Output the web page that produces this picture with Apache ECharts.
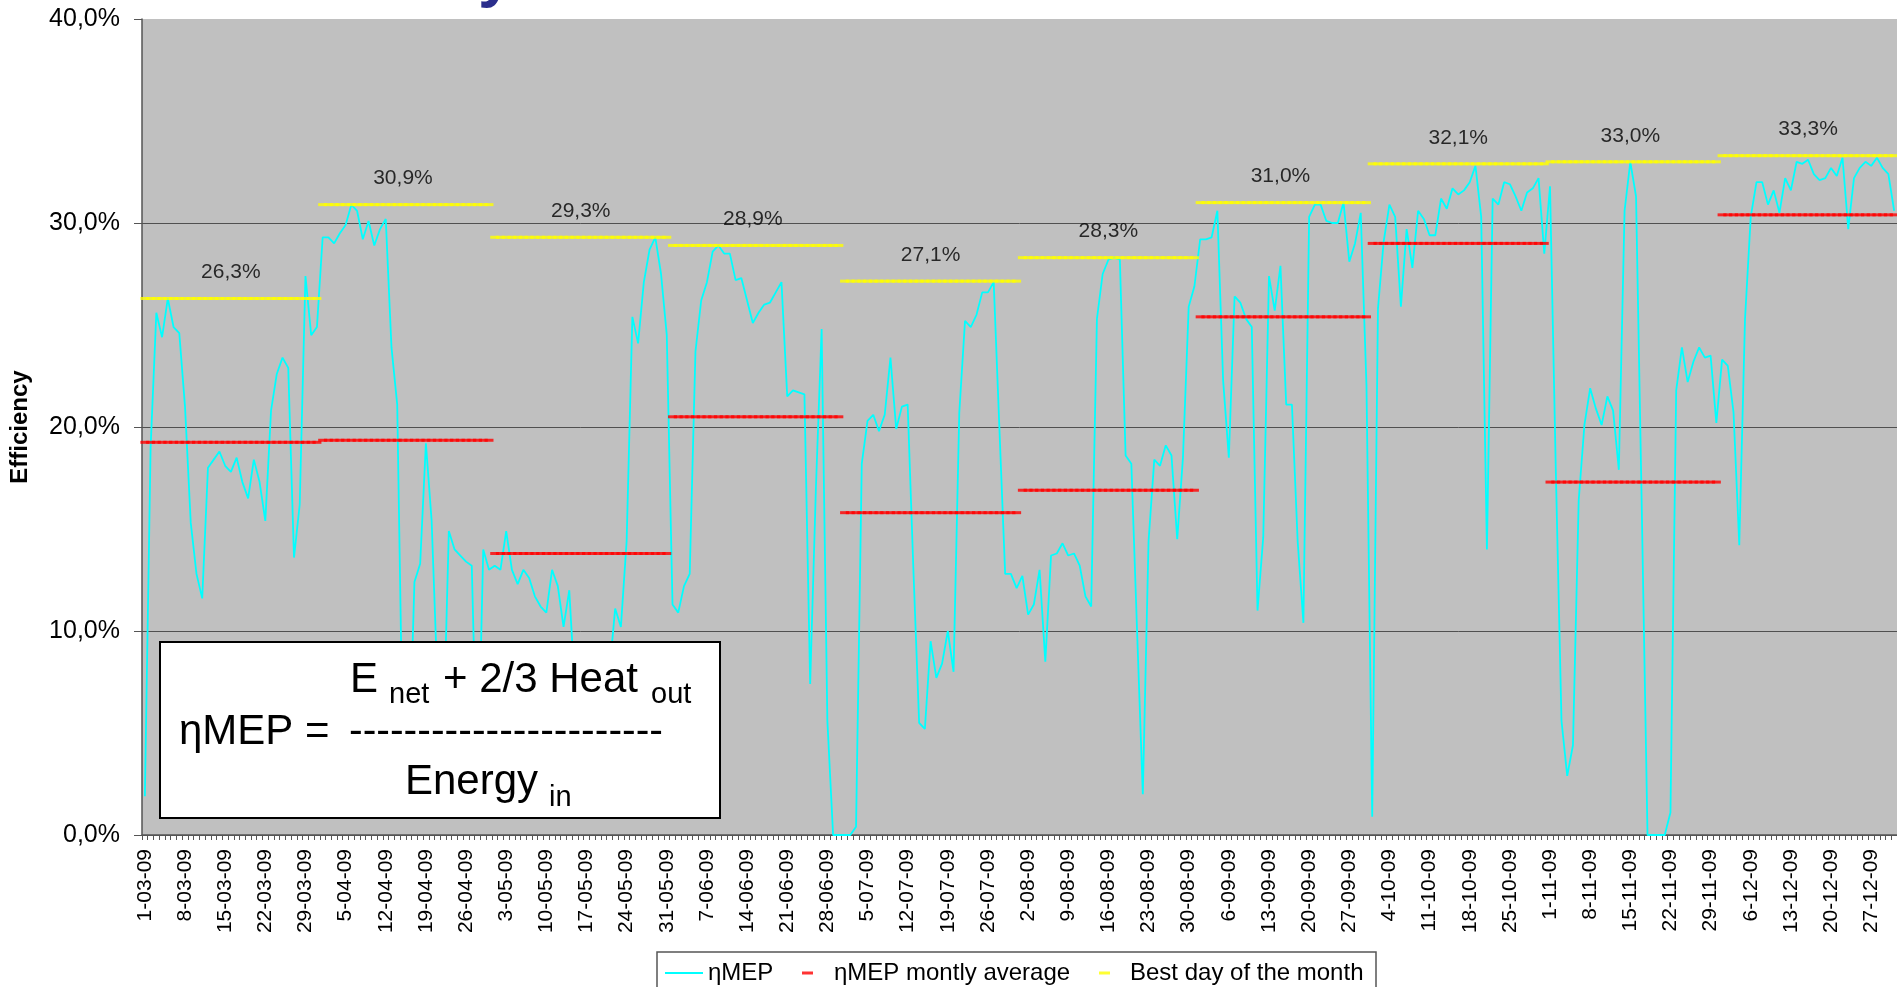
<!DOCTYPE html>
<html>
<head>
<meta charset="utf-8">
<title>Efficiency</title>
<script src="https://cdn.jsdelivr.net/npm/echarts@6/dist/echarts.min.js"></script>
<style>
  html, body { margin: 0; padding: 0; background: #fff; }
  #myCharts { width: 1897px; height: 987px; }
</style>
</head>
<body>
<div id="myCharts"></div>
<script>
// daily efficiency (%) per month, 2009
const mar = [1.9, 19.0, 25.6, 24.4, 26.3, 24.9, 24.6, 21.0, 15.3, 12.8, 11.6, 18.0, 18.4, 18.8, 18.1, 17.8, 18.5, 17.3, 16.5, 18.4, 17.3, 15.4, 20.8, 22.6, 23.4, 22.9, 13.6, 16.2, 27.4, 24.5, 24.9];
const apr = [29.3, 29.3, 29.0, 29.5, 29.9, 30.9, 30.6, 29.2, 30.1, 28.9, 29.7, 30.2, 23.9, 21.1, 3.8, 2.7, 12.4, 13.3, 19.2, 15.4, 7.6, 4.3, 14.9, 14.0, 13.7, 13.4, 13.2, 2.0, 14.0, 13.0];
const may = [13.2, 13.0, 14.9, 13.0, 12.3, 13.0, 12.6, 11.7, 11.2, 10.9, 13.0, 12.2, 10.2, 12.0, 7.0, 4.0, 3.0, 2.0, 3.0, 5.0, 8.0, 11.1, 10.2, 14.4, 25.4, 24.1, 27.1, 28.7, 29.3, 27.5, 24.5];
const jun = [11.3, 10.9, 12.2, 12.8, 23.7, 26.2, 27.1, 28.6, 28.9, 28.5, 28.5, 27.2, 27.3, 26.2, 25.1, 25.6, 26.0, 26.1, 26.6, 27.1, 21.5, 21.8, 21.7, 21.6, 7.4, 17.0, 24.8, 5.6, 0, 0];
const jul = [0, 0, 0.4, 18.2, 20.3, 20.6, 19.8, 20.6, 23.4, 19.9, 21.0, 21.1, 13.0, 5.5, 5.2, 9.5, 7.7, 8.4, 10.0, 8.0, 20.7, 25.2, 24.9, 25.5, 26.6, 26.6, 27.1, 19.9, 12.8, 12.8, 12.1];
const aug = [12.7, 10.8, 11.3, 13.0, 8.5, 13.7, 13.8, 14.3, 13.7, 13.8, 13.2, 11.7, 11.2, 25.3, 27.5, 28.2, 28.3, 28.2, 18.6, 18.2, 10.0, 2.0, 14.4, 18.4, 18.1, 19.1, 18.6, 14.5, 18.5, 25.9, 26.9];
const sep = [29.2, 29.2, 29.3, 30.6, 22.3, 18.5, 26.4, 26.1, 25.3, 24.9, 11.0, 14.6, 27.4, 25.7, 27.9, 21.1, 21.1, 14.4, 10.4, 30.3, 30.9, 30.9, 30.1, 30.0, 30.0, 31.0, 28.1, 29.0, 30.5, 22.0];
const oct = [0.9, 25.8, 29.1, 30.9, 30.3, 25.9, 29.7, 27.8, 30.6, 30.2, 29.4, 29.4, 31.2, 30.7, 31.7, 31.4, 31.6, 32.0, 32.8, 30.3, 14.0, 31.2, 30.9, 32.0, 31.9, 31.3, 30.6, 31.5, 31.7, 32.2, 28.5];
const nov = [31.8, 18.0, 5.6, 2.9, 4.4, 16.4, 20.1, 21.9, 20.9, 20.1, 21.5, 20.8, 17.9, 30.6, 33.0, 31.3, 16.0, 0, 0, 0, 0, 1.1, 21.8, 23.9, 22.2, 23.2, 23.9, 23.4, 23.5, 20.2];
const dec = [23.3, 23.0, 20.7, 14.2, 25.3, 30.3, 32.0, 32.0, 30.9, 31.6, 30.5, 32.2, 31.6, 33.0, 32.9, 33.1, 32.4, 32.1, 32.2, 32.7, 32.3, 33.2, 29.7, 32.2, 32.7, 33.0, 32.8, 33.2, 32.7, 32.4, 30.6];

const months = [mar, apr, may, jun, jul, aug, sep, oct, nov, dec];
const monthNumbers = ['03', '04', '05', '06', '07', '08', '09', '10', '11', '12'];

// monthly average and best day (line level and printed label)
const monthlyAverage = [19.25, 19.35, 13.8, 20.5, 15.8, 16.9, 25.4, 29.0, 17.3, 30.4];
const bestDay = [26.3, 30.9, 29.3, 28.9, 27.15, 28.3, 31.0, 32.9, 33.0, 33.3];
const bestLabels = ['26,3%', '30,9%', '29,3%', '28,9%', '27,1%', '28,3%', '31,0%', '32,1%', '33,0%', '33,3%'];

const yTicks = [0, 10, 20, 30, 40];

// build the per-day tables
const dates = [];
const efficiency = [];
const avgLine = [];
const bestLine = [];
months.forEach((days, m) => {
    const mid = Math.floor((days.length - 1) / 2);
    days.forEach((v, d) => {
        dates.push((d + 1) + '-' + monthNumbers[m] + '-09');
        efficiency.push(v);
        avgLine.push(monthlyAverage[m]);
        if (d === mid) {
            bestLine.push({ value: bestDay[m], label: { show: true, formatter: bestLabels[m] } });
        } else {
            bestLine.push(bestDay[m]);
        }
    });
});

const FONT = 'Liberation Sans';
const pct = v => v.toFixed(1).replace('.', ',') + '%';

const chart = echarts.init(document.getElementById('myCharts'));

const legendBase = {
    top: 961,
    padding: 0,
    icon: 'rect',
    selectedMode: false,
    textStyle: { fontFamily: FONT, fontSize: 24, color: '#000' }
};

// formula pieces: [text, x, y, size]
const formula = [
    ['E', 350, 680, 42],
    ['net', 389, 695, 29],
    ['+ 2/3 Heat', 443, 680, 42],
    ['out', 651, 695, 29],
    ['ηMEP =', 179, 732, 42],
    ['-----------------------', 349, 732, 41],
    ['Energy', 405, 782, 42],
    ['in', 549, 798, 29]
];

const options = {
    animation: false,
    textStyle: { fontFamily: FONT },
    grid: {
        left: 140, top: 19, right: -4, bottom: 152,
        show: true, backgroundColor: '#C0C0C0', borderWidth: 0
    },
    legend: [
        Object.assign({}, legendBase, { left: 665, data: ['ηMEP'], itemWidth: 38, itemHeight: 2 }),
        Object.assign({}, legendBase, { left: 802, data: ['ηMEP montly average'], itemWidth: 11, itemHeight: 3,
            textStyle: Object.assign({}, legendBase.textStyle, { padding: [0, 0, 0, 16] }) }),
        Object.assign({}, legendBase, { left: 1099, data: ['Best day of the month'], itemWidth: 11, itemHeight: 3,
            textStyle: Object.assign({}, legendBase.textStyle, { padding: [0, 0, 0, 15] }) })
    ],
    xAxis: {
        type: 'category',
        data: dates,
        boundaryGap: true,
        axisLine: { lineStyle: { color: '#555', width: 1.5 } },
        axisTick: { show: true, interval: 0, length: 5, lineStyle: { color: '#555' } },
        axisLabel: { interval: 6, rotate: 90, margin: 14, fontSize: 21, color: '#000', fontFamily: FONT }
    },
    yAxis: {
        type: 'value',
        min: yTicks[0],
        max: yTicks[yTicks.length - 1],
        interval: yTicks[1] - yTicks[0],
        name: 'Efficiency',
        nameLocation: 'middle',
        nameGap: 110,
        nameTextStyle: { fontFamily: FONT, fontSize: 24, fontWeight: 'bold', color: '#000' },
        axisLine: { show: true, lineStyle: { color: '#555', width: 1.5 } },
        axisTick: { show: true, length: 8, lineStyle: { color: '#555' } },
        axisLabel: { formatter: pct, fontSize: 25, margin: 22, color: '#000', fontFamily: FONT },
        splitLine: { show: true, showMaxLine: false, lineStyle: { color: '#505050', width: 1 } }
    },
    series: [
        {
            name: 'ηMEP',
            type: 'line',
            data: efficiency,
            symbol: 'none',
            z: 2,
            itemStyle: { color: '#00FFFF' },
            lineStyle: { color: '#00FFFF', width: 1.8 }
        },
        {
            name: 'ηMEP montly average',
            type: 'scatter',
            data: avgLine,
            symbol: 'rect',
            symbolSize: [9, 3],
            z: 3,
            silent: true,
            itemStyle: { color: '#FF0000' }
        },
        {
            name: 'Best day of the month',
            type: 'scatter',
            data: bestLine,
            symbol: 'rect',
            symbolSize: [9, 3],
            z: 3,
            silent: true,
            itemStyle: { color: '#FFFF00' },
            label: { show: false, position: 'top', distance: 14, fontSize: 21, color: '#000', fontFamily: FONT }
        }
    ],
    graphic: [
        // cut-off title letter at the top edge
        { type: 'text', left: 478, top: -55, z: 50,
          style: { text: 'y', font: 'bold 64px ' + FONT, fill: '#2b2e8c' } },
        // legend frame
        { type: 'rect', z: 0, shape: { x: 657, y: 952, width: 719, height: 45 },
          style: { fill: '#fff', stroke: '#555', lineWidth: 1.5 } },
        // formula box
        { type: 'rect', z: 100, shape: { x: 160, y: 642, width: 560, height: 176 },
          style: { fill: '#fff', stroke: '#000', lineWidth: 2 } }
    ].concat(formula.map(f => ({
        type: 'text', z: 101,
        style: { x: f[1], y: f[2], text: f[0], font: f[3] + 'px ' + FONT, fill: '#000', textVerticalAlign: 'middle' }
    })))
};

chart.setOption(options);
</script>
</body>
</html>
